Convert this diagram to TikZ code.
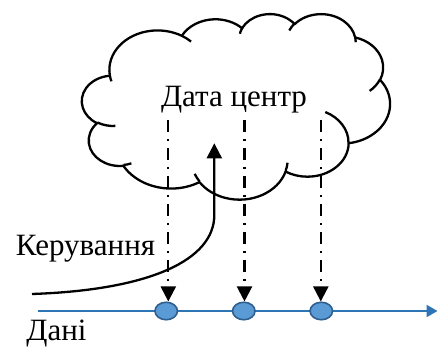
\documentclass[tikz,border=0pt]{standalone}
\usepackage{fontspec}
\setmainfont{Liberation Serif}
\usetikzlibrary{arrows.meta,shapes.geometric}
\definecolor{lineblue}{HTML}{2E75B6}
\definecolor{ellfill}{HTML}{5B9BD5}
\definecolor{ellborder}{HTML}{2F5F8F}
\newcommand\carc[4]{arc[x radius=#1, y radius=#2, start angle={atan2((#1)*sin(#3),(#2)*cos(#3))}, delta angle={mod(atan2((#1)*sin((#3)+(#4)),(#2)*cos((#3)+(#4)))-atan2((#1)*sin(#3),(#2)*cos(#3))+720,360)}]}
\tikzset{
  cloudline/.style={line width=2.3pt, line join=round, black},
  lbl/.style={font=\fontsize{31}{36}\selectfont, inner sep=0pt, anchor=base},
  dot/.style={ellipse, draw=ellborder, fill=ellfill, line width=1.6pt, minimum width=22.5pt, minimum height=17.5pt, inner sep=0pt},
  dd/.style={line width=2.2pt, dash pattern=on 12pt off 7pt on 2pt off 7pt, -{Triangle[length=15pt,width=15pt]}},
  flow/.style={lineblue, line width=2.2pt, -{Triangle[length=11pt,width=12pt]}},
  ctrl/.style={black, line width=2.3pt, -{Triangle[length=15pt,width=15pt]}}
}
\begin{document}
\begin{tikzpicture}[x=1pt, y=-1pt]
\useasboundingbox (0,0) rectangle (438,347);
% cloud
\begin{scope}[xshift=82pt, yshift=-13.5pt, x=0.071296pt, y=-0.042940pt]
\draw[cloudline] (390,1437)
  \carc{675.3}{919}{-190.48748}{123.78053}
  \carc{533.3}{726.7}{-144.10238}{89.94523}
  \carc{436.5}{594.5}{-145.80792}{99.72302}
  \carc{485.7}{659.5}{-130.98607}{117.24173}
  \carc{533.3}{727.3}{-78.70888}{109.02692}
  \carc{677.5}{922}{-46.26725}{130.269}
  \carc{578.5}{786.7}{0.62502}{114.03333}
  \carc{675.2}{921.5}{22.4516}{115.17255}
  \carc{772}{1054.3}{66.24263}{75.71102}
  \carc{436}{591.8}{-274.94208}{146.73557}
  \carc{434.5}{594.5}{-246.8285}{152.51885}
  -- cycle;
\draw[cloudline]
  (469.3,2617.7) \carc{434.5}{594.5}{86.742}{26.4295}
  (692.8,3489.9) \carc{436}{591.8}{73.61047}{11.44747}
  (1647.8,3909) \carc{675.2}{921.5}{137.62415}{14.0811}
  (2882.7,3475.1) \carc{675.2}{921.5}{6.45327}{15.99835}
  (3412.9,2295.4) \carc{578.5}{786.7}{-70.29235}{70.91737}
  (4179.8,1535.4) \carc{533.3}{727.3}{30.31803}{27.7515}
  (3832.4,542.6) \carc{485.7}{659.5}{-13.74433}{14.8589}
  (2907.8,395.2) \carc{485.7}{659.5}{-149.18145}{18.19537}
  (2214.1,472) \carc{436.5}{594.5}{-163.49427}{17.68635}
  (1400,519.2) \carc{675.3}{919}{-66.70695}{12.31935}
  (412.7,1578.9) \carc{675.3}{919}{157.65435}{11.85817};
\end{scope}
% labels
\node[lbl] (dc) at (234,106.7) {Дата центр};
\node[lbl] (ker) at (85.5,255) {Керування};
\node[lbl] (dani) at (56.5,340.5) {Дані};
% data line
\coordinate (b0) at (38,311);
\coordinate (b1) at (437.5,311);
\draw[flow] (b0) -- (b1);
\node[dot] (e1) at (166.2,311) {};
\node[dot] (e2) at (243.8,311) {};
\node[dot] (e3) at (321.3,311) {};
% dash-dot arrows
\coordinate (t1) at (168.3,120);
\coordinate (t2) at (244.5,120);
\coordinate (t3) at (320.8,120);
\draw[dd] (t1) -- (t1 |- e1.north);
\draw[dd] (t2) -- (t2 |- e2.north);
\draw[dd] (t3) -- (t3 |- e3.north);
% control arrow
\coordinate (k0) at (32,294);
\coordinate (k1) at (214.3,215);
\coordinate (k2) at (214.3,143.3);
\draw[ctrl] (k0) .. controls (150,290) and (214.3,260) .. (k1) -- (k2);
\end{tikzpicture}
\end{document}
